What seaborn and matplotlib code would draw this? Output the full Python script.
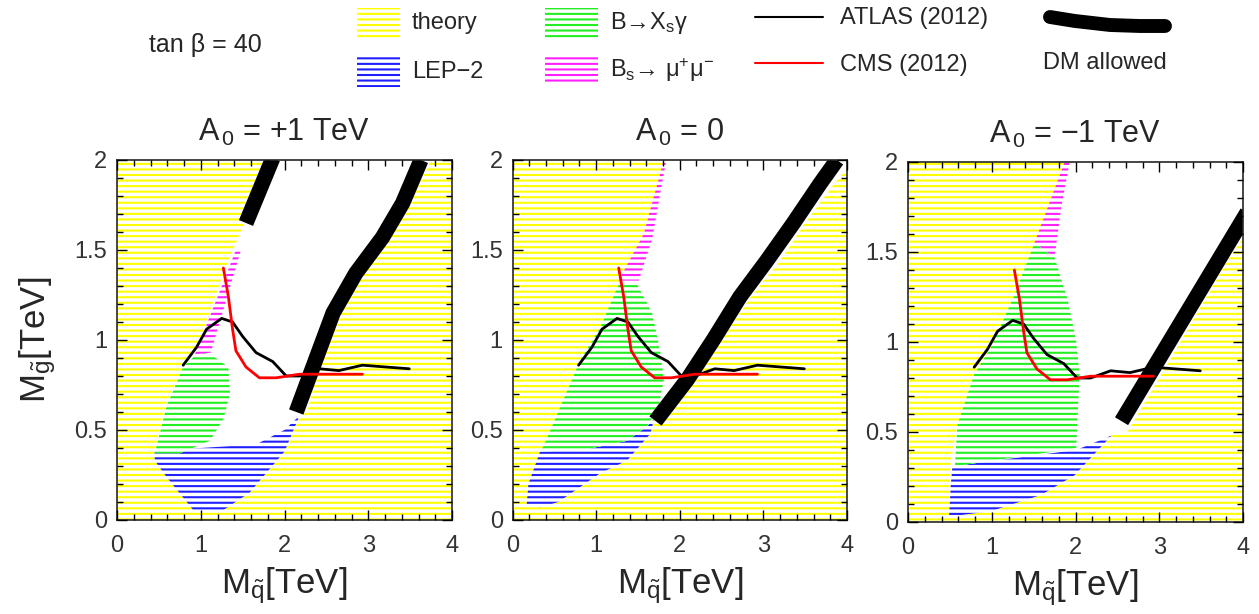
import matplotlib
matplotlib.use('Agg')
import matplotlib.pyplot as plt
from matplotlib.patches import Polygon, Rectangle
from matplotlib.ticker import MultipleLocator
import seaborn as sns

# experimental limits (same in all three panels)
atlas_x = [0.79, 0.95, 1.07, 1.25, 1.38, 1.50, 1.66, 1.86, 1.96, 2.02, 2.18, 2.42, 2.65, 2.93, 3.49]
atlas_y = [0.86, 0.96, 1.06, 1.12, 1.10, 1.02, 0.93, 0.88, 0.83, 0.80, 0.80, 0.84, 0.83, 0.86, 0.84]
cms_x = [1.27, 1.33, 1.38, 1.42, 1.54, 1.70, 1.90, 2.18, 2.58, 2.93]
cms_y = [1.40, 1.24, 1.06, 0.94, 0.85, 0.79, 0.79, 0.81, 0.81, 0.81]

# A0 = +1 TeV
allowed_p1 = [(1.80, 2.0), (1.50, 1.63), (1.27, 1.37), (0.99, 1.0), (0.79, 0.85), (0.59, 0.65),
              (0.45, 0.39), (0.45, 0.33), (0.59, 0.24), (0.91, 0.055), (1.27, 0.055), (1.58, 0.15),
              (1.98, 0.37), (2.18, 0.57), (2.26, 0.60), (2.42, 0.85), (2.66, 1.15), (2.95, 1.37),
              (3.27, 1.57), (3.50, 1.76), (3.75, 2.0)]
green_p1 = [(0.79, 0.85), (0.99, 0.94), (1.15, 0.91), (1.33, 0.85), (1.35, 0.70), (1.27, 0.56),
            (1.11, 0.44), (0.75, 0.37), (0.45, 0.37), (0.59, 0.63)]
blue_p1 = [(0.45, 0.38), (1.0, 0.40), (1.66, 0.42), (2.0, 0.50), (2.18, 0.58), (2.0, 0.38),
           (1.58, 0.15), (1.27, 0.055), (0.91, 0.055), (0.59, 0.24), (0.45, 0.33)]
magenta_p1 = [(0.93, 0.92), (1.42, 1.50), (1.48, 1.50), (1.12, 0.93)]
dm_p1 = [([1.54, 1.86], [1.65, 2.01]),
         ([2.14, 2.34, 2.58, 2.85, 3.17, 3.41, 3.63], [0.60, 0.85, 1.15, 1.37, 1.57, 1.76, 2.0])]

# A0 = 0
allowed_p2 = [(1.83, 2.0), (1.57, 1.59), (1.29, 1.33), (1.05, 1.07), (0.81, 0.89), (0.61, 0.67),
              (0.37, 0.41), (0.19, 0.20), (0.17, 0.09), (0.33, 0.07), (0.55, 0.10), (1.05, 0.26),
              (1.37, 0.33), (1.65, 0.48), (1.69, 0.56), (1.80, 0.55), (2.2, 0.8), (2.5, 1.0),
              (2.85, 1.24), (3.2, 1.44), (3.5, 1.65), (3.85, 1.87), (4.0, 1.95), (4.0, 2.0)]
green_p2 = [(1.27, 1.31), (1.49, 1.31), (1.67, 1.15), (1.77, 0.93), (1.81, 0.78), (1.75, 0.63),
            (1.61, 0.52), (1.37, 0.44), (0.85, 0.39), (0.33, 0.38), (0.37, 0.41), (0.61, 0.67),
            (0.81, 0.89), (1.05, 1.07)]
blue_p2 = [(0.33, 0.38), (0.85, 0.39), (1.37, 0.44), (1.61, 0.52), (1.69, 0.56), (1.65, 0.48),
           (1.37, 0.33), (1.05, 0.26), (0.55, 0.10), (0.33, 0.07), (0.17, 0.09), (0.19, 0.20)]
magenta_p2 = [(1.27, 1.33), (1.51, 1.33), (1.67, 1.56), (1.80, 1.90), (1.84, 2.0), (1.81, 2.0),
              (1.57, 1.59)]
dm_p2 = [([1.71, 2.09, 2.40, 2.72, 3.04, 3.36, 3.68, 3.88], [0.55, 0.78, 1.0, 1.24, 1.44, 1.65, 1.87, 2.0])]

# A0 = -1 TeV
allowed_p3 = [(1.87, 2.0), (1.51, 1.53), (1.27, 1.26), (0.99, 0.97), (0.79, 0.82), (0.59, 0.54),
              (0.51, 0.33), (0.49, 0.03), (0.99, 0.06), (1.59, 0.15), (1.99, 0.26), (2.43, 0.48),
              (2.62, 0.50), (3.0, 0.80), (3.4, 1.12), (3.8, 1.44), (4.0, 1.58), (4.0, 2.0)]
green_p3 = [(1.51, 1.55), (1.75, 1.47), (1.91, 1.23), (2.01, 1.0), (2.05, 0.82), (2.03, 0.63),
            (2.01, 0.41), (0.56, 0.31), (0.59, 0.54), (0.79, 0.82), (0.99, 0.97), (1.27, 1.26)]
blue_p3 = [(0.53, 0.31), (2.01, 0.40), (2.43, 0.48), (1.99, 0.26), (1.59, 0.15), (0.99, 0.06),
           (0.49, 0.03), (0.51, 0.20)]
magenta_p3 = [(1.51, 1.55), (1.87, 2.0), (1.93, 2.0), (1.83, 1.75), (1.75, 1.47)]
dm_p3 = [([2.55, 4.05], [0.56, 1.72])]

titles = [r'$\mathrm{A}_{\,\mathrm{0}}$ = +1 TeV', r'$\mathrm{A}_{\,\mathrm{0}}$ = 0',
          r'$\mathrm{A}_{\,\mathrm{0}}$ = −1 TeV']
x_ticks = [0, 1, 2, 3, 4]
y_ticks = [0, 0.5, 1, 1.5, 2]
y_ticklabels = ['0', '0.5', '1', '1.5', '2']

YELLOW = '#ffff00'
BLUE = '#1f1fff'
GREEN = '#22ee22'
MAGENTA = '#ff22ff'
HATCH = '---'

sns.set_style('ticks')
plt.rcParams['font.family'] = ['Liberation Sans', 'DejaVu Sans']
plt.rcParams['mathtext.fontset'] = 'custom'
plt.rcParams['mathtext.rm'] = 'Liberation Sans'
plt.rcParams['mathtext.it'] = 'Liberation Sans:italic'
plt.rcParams['hatch.linewidth'] = 1.5

W, H = 1259, 614
fig = plt.figure(figsize=(W / 100, H / 100), dpi=100)


def rect(l, t, r, b):
    return [l / W, (H - b) / H, (r - l) / W, (b - t) / H]


boxes = [rect(117, 160, 452, 520), rect(512.5, 160, 847, 520), rect(908, 162, 1243, 522)]
panels = [(allowed_p1, green_p1, blue_p1, magenta_p1, dm_p1),
          (allowed_p2, green_p2, blue_p2, magenta_p2, dm_p2),
          (allowed_p3, green_p3, blue_p3, magenta_p3, dm_p3)]

for i, (box, (allowed, green, blue, magenta, dm)) in enumerate(zip(boxes, panels)):
    ax = fig.add_axes(box)
    ax.set_axisbelow(False)
    # theory-excluded everywhere, then cut out the allowed wedge
    ax.add_patch(Rectangle((0, 0), 4, 2, facecolor='white', edgecolor=YELLOW, lw=0, hatch=HATCH))
    ax.add_patch(Polygon(allowed, closed=True, facecolor='white', edgecolor='none', lw=0))
    for poly, col in [(blue, BLUE), (green, GREEN), (magenta, MAGENTA)]:
        ax.add_patch(Polygon(poly, closed=True, facecolor='white', edgecolor=col, lw=0, hatch=HATCH))

    for seg_x, seg_y in dm:
        sns.lineplot(x=seg_x, y=seg_y, ax=ax, color='black', lw=11, sort=False,
                     estimator=None, solid_capstyle='butt', legend=False)
    sns.lineplot(x=atlas_x, y=atlas_y, ax=ax, color='black', lw=2, sort=False, estimator=None, legend=False)
    sns.lineplot(x=cms_x, y=cms_y, ax=ax, color='red', lw=2, sort=False, estimator=None, legend=False)

    ax.set_xlim(0, 4)
    ax.set_ylim(0, 2)
    ax.set_xticks(x_ticks)
    ax.set_xticklabels([str(t) for t in x_ticks])
    ax.set_yticks(y_ticks)
    ax.set_yticklabels(y_ticklabels)
    ax.xaxis.set_minor_locator(MultipleLocator(0.2))
    ax.yaxis.set_minor_locator(MultipleLocator(0.1))
    ax.tick_params(which='both', direction='in', top=True, right=True, width=1, colors='black',
                   labelcolor='#333333', labelsize=17)
    ax.tick_params(which='major', length=7)
    ax.tick_params(which='minor', length=4)
    ax.tick_params(axis='x', pad=11)
    ax.tick_params(axis='y', pad=7)
    for s in ax.spines.values():
        s.set_linewidth(1.2)
    ax.set_title(titles[i], fontsize=22, pad=14)
    ax.set_xlabel(r'$\mathrm{M}_{\tilde{\mathrm{q}}}$[TeV]', fontsize=25, labelpad=6)
    ax.set_ylabel('')
    if i == 0:
        ax.set_ylabel(r'$\mathrm{M}_{\tilde{\mathrm{g}}}$[TeV]', fontsize=25, labelpad=12)

# legend strip along the top, in pixel units
lax = fig.add_axes([0, 0, 1, 1])
lax.set_xlim(0, W)
lax.set_ylim(H, 0)
lax.axis('off')
lax.patch.set_alpha(0)

lax.text(205, 45, 'tan β = 40', fontsize=18, ha='center', va='center')
for (x0, y0, w, col, label) in [(357, 8, 43, YELLOW, 'theory'), (357, 57, 43, BLUE, 'LEP−2'),
                                 (545, 8, 53, GREEN, 'B→X$_{\\mathrm{s}}$γ'),
                                 (545, 55, 53, MAGENTA, 'B$_{\\mathrm{s}}$→ μ$^{+}$μ$^{-}$')]:
    lax.add_patch(Rectangle((x0, y0), w, 30, facecolor='white', edgecolor=col, lw=0, hatch=HATCH))
    lax.text(x0 + w + 12, y0 + 15, label, fontsize=17, va='center')

lax.plot([755, 823], [17, 17], color='black', lw=1.5)
lax.text(840, 18, 'ATLAS (2012)', fontsize=17, va='center')
lax.plot([755, 823], [63, 63], color='red', lw=1.5)
lax.text(840, 65, 'CMS (2012)', fontsize=17, va='center')
lax.plot([1050, 1075, 1110, 1140, 1165], [17, 21, 25, 26, 26], color='black', lw=10)
lax.text(1105, 63, 'DM allowed', fontsize=17, ha='center', va='center')

fig.savefig('out.png', dpi=100)
